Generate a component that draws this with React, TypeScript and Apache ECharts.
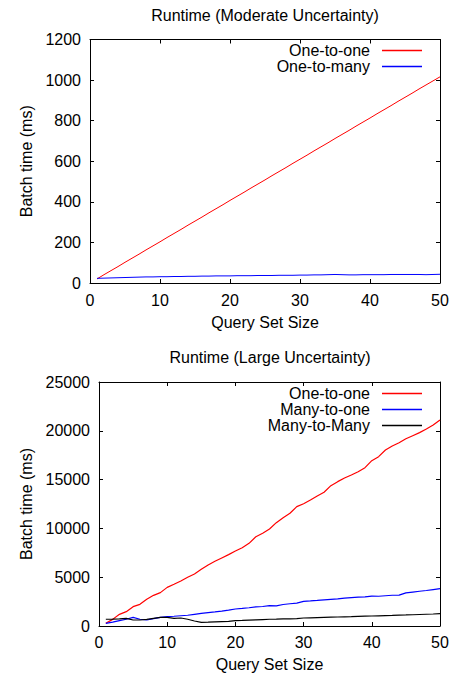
import React, { useEffect, useRef } from "react";
import * as echarts from "echarts";

const querySizes = [1,2,3,4,5,6,7,8,9,10,11,12,13,14,15,16,17,18,19,20,21,22,23,24,25,26,27,28,29,30,31,32,33,34,35,36,37,38,39,40,41,42,43,44,45,46,47,48,49,50];

const modOneToOne = [20,41,61,81,102,122,142,163,183,203,224,244,264,285,305,325,346,366,386,407,427,447,468,488,508,529,549,569,590,610,630,651,671,691,712,732,752,773,793,813,834,854,874,895,915,935,956,976,996,1016];
const modOneToMany = [23,24,25,26,27,28,29,30,30,31,31,32,32,33,33,34,34,35,35,35,36,36,36,37,37,37,38,38,38,39,39,40,40,41,42,41,40,40,41,41,41,41,42,42,42,42,42,41,42,43];

const largeOneToOne = [275,680,1195,1470,1980,2220,2730,3140,3420,3960,4270,4610,4990,5330,5810,6250,6630,6970,7310,7680,8020,8470,9150,9500,9940,10590,11100,11550,12230,12530,12910,13320,13700,14380,14790,15160,15470,15810,16220,16940,17350,18030,18440,18780,19190,19500,19810,20180,20590,21110];
const largeManyToOne = [275,400,550,690,880,690,615,750,890,955,1000,1050,1100,1200,1300,1380,1450,1530,1620,1740,1800,1870,1950,2000,2080,2060,2200,2280,2350,2530,2570,2620,2680,2730,2770,2850,2900,2950,2980,3070,3050,3100,3150,3170,3400,3480,3560,3640,3730,3820];
const largeManyToMany = [690,700,740,785,615,615,680,785,890,890,785,820,690,510,375,390,420,450,480,545,570,600,630,660,690,700,720,740,760,820,840,860,880,900,920,940,960,985,1005,1025,1045,1065,1085,1110,1130,1155,1180,1205,1230,1260];

const xTicks = [0, 10, 20, 30, 40, 50];

const pts = (ys: number[]) => querySizes.map((x, i) => [x, ys[i]]);

const FONT = "Liberation Sans";

export default function App() {
  const ref = useRef<HTMLDivElement>(null);
  useEffect(() => {
    document.body.style.margin = "0";
    const chart = echarts.init(ref.current!, null, { renderer: "svg" });
    const txt = { color: "#000", fontFamily: FONT, fontSize: 16 };
    const plain = (v: number) => String(v);
    const lineStyle = { show: true, onZero: false, lineStyle: { color: "#000", width: 1 } };
    const tick = { show: true, inside: true, length: 4, lineStyle: { color: "#000" } };
    const xAxisBase = (gridIndex: number, nameGap: number, labelMargin: number) => ({
      type: "value",
      gridIndex,
      min: xTicks[0],
      max: xTicks[xTicks.length - 1],
      interval: 10,
      name: "Query Set Size",
      nameLocation: "middle",
      nameGap,
      nameTextStyle: txt,
      axisLine: lineStyle,
      axisTick: tick,
      axisLabel: { ...txt, margin: labelMargin, formatter: plain },
      splitLine: { show: false },
    });
    const mirrorX = (gridIndex: number) => ({
      type: "value",
      gridIndex,
      position: "top",
      min: xTicks[0],
      max: xTicks[xTicks.length - 1],
      interval: 10,
      axisLine: lineStyle,
      axisTick: tick,
      axisLabel: { show: false },
      splitLine: { show: false },
    });
    const yAxisBase = (gridIndex: number, max: number, interval: number, nameGap: number) => ({
      type: "value",
      gridIndex,
      min: 0,
      max,
      interval,
      name: "Batch time (ms)",
      nameLocation: "middle",
      nameGap,
      nameTextStyle: txt,
      axisLine: lineStyle,
      axisTick: tick,
      axisLabel: { ...txt, margin: 9, formatter: plain },
      splitLine: { show: false },
    });
    const mirrorY = (gridIndex: number, max: number, interval: number) => ({
      type: "value",
      gridIndex,
      position: "right",
      min: 0,
      max,
      interval,
      axisLine: lineStyle,
      axisTick: tick,
      axisLabel: { show: false },
      splitLine: { show: false },
    });
    const line = (name: string, data: number[], color: string, xi: number, yi: number, width: number) => ({
      type: "line",
      name,
      data: pts(data),
      xAxisIndex: xi,
      yAxisIndex: yi,
      symbol: "none",
      color,
      itemStyle: { color },
      lineStyle: { color, width },
    });
    const legendBase = {
      orient: "vertical",
      align: "right",
      right: 31,
      padding: 0,
      itemGap: 0,
      itemWidth: 40,
      itemHeight: 1.5,
      icon: "rect",
      textStyle: { ...txt, lineHeight: 15, padding: [0, 7, 0, 0] },
    };
    chart.setOption({
      animation: false,
      title: [
        { text: "Runtime (Moderate Uncertainty)", left: 265, top: 7, textAlign: "center", padding: 0, textStyle: { ...txt, fontWeight: "normal" } },
        { text: "Runtime (Large Uncertainty)", left: 270, top: 349, textAlign: "center", padding: 0, textStyle: { ...txt, fontWeight: "normal" } },
      ],
      legend: [
        { ...legendBase, top: 42.5, data: ["One-to-one", "One-to-many"] },
        { ...legendBase, top: 385.5, data: ["One-to-one", "Many-to-one", "Many-to-Many"] },
      ],
      grid: [
        { left: 90, top: 39.5, width: 350, height: 243.5 },
        { left: 99, top: 382, width: 341, height: 244 },
      ],
      xAxis: [xAxisBase(0, 31, 9), mirrorX(0), xAxisBase(1, 30, 8), mirrorX(1)],
      yAxis: [yAxisBase(0, 1200, 200, 55), mirrorY(0, 1200, 200), yAxisBase(1, 25000, 5000, 64), mirrorY(1, 25000, 5000)],
      series: [
        line("One-to-one", modOneToOne, "#ff0000", 0, 0, 1),
        line("One-to-many", modOneToMany, "#0000ff", 0, 0, 1),
        line("One-to-one", largeOneToOne, "#ff0000", 2, 2, 1.2),
        line("Many-to-one", largeManyToOne, "#0000ff", 2, 2, 1.2),
        line("Many-to-Many", largeManyToMany, "#000000", 2, 2, 1.2),
      ],
    });
    return () => chart.dispose();
  }, []);
  return <div ref={ref} style={{ width: 453, height: 675 }} />;
}
